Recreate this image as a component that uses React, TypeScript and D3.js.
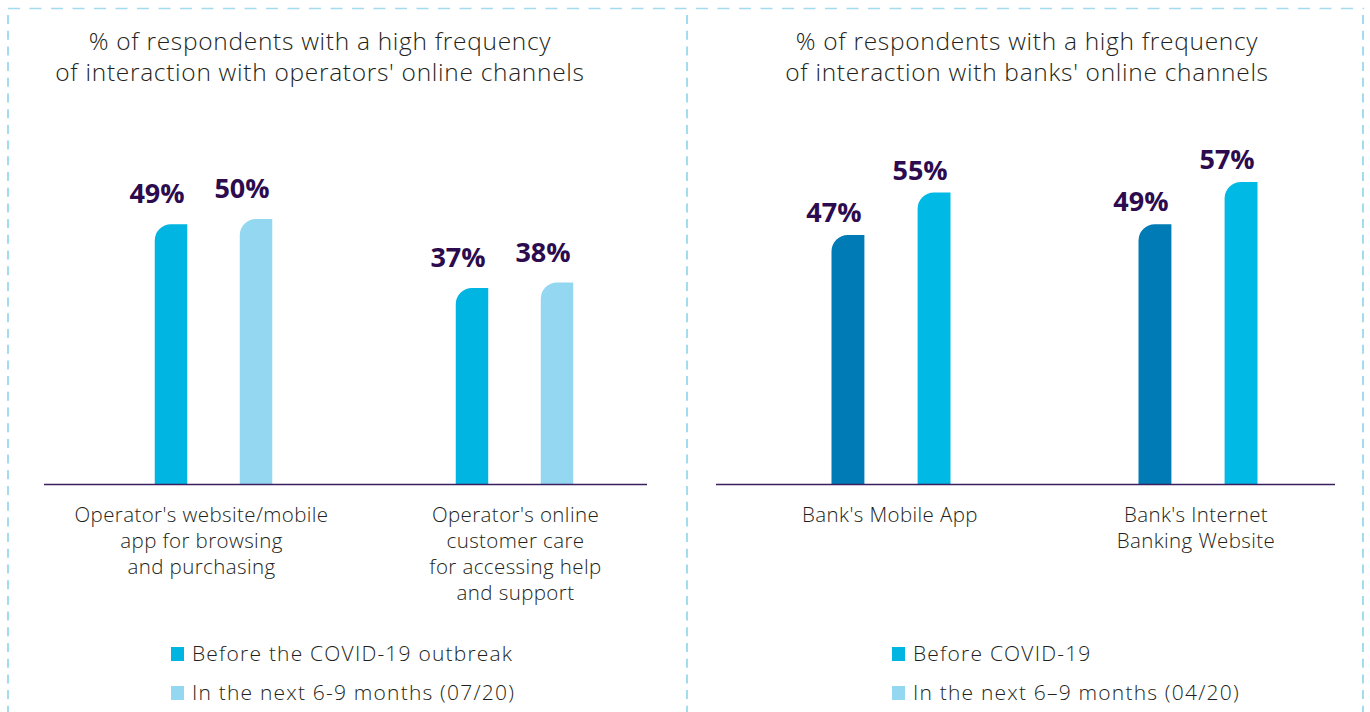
import React from "react";
import * as d3 from "d3";

// ---------- data ----------
const leftTitle = ["% of respondents with a high frequency", "of interaction with operators' online channels"];
const leftCategories = ["website", "care"];
const leftCategoryLabels = [
  ["Operator's website/mobile", "app for browsing", "and purchasing"],
  ["Operator's online", "customer care", "for accessing help", "and support"],
];
const leftBefore = [49, 37];
const leftNext = [50, 38];
const leftLegend = ["Before the COVID-19 outbreak", "In the next 6-9 months (07/20)"];

const rightTitle = ["% of respondents with a high frequency", "of interaction with banks' online channels"];
const rightCategories = ["mobile", "internet"];
const rightCategoryLabels = [["Bank's Mobile App"], ["Bank's Internet", "Banking Website"]];
const rightBefore = [47, 49];
const rightNext = [55, 57];
const rightLegend = ["Before COVID-19", "In the next 6\u20139 months (04/20)"];

const seriesKeys = ["before", "next"];

// ---------- styles ----------
const FONT = "'Open Sans', 'Noto Sans', sans-serif";
const TEXT = "#231f20";
const LABEL = "#2c0b4e";
const BORDER = "#a3dcef";

const W = 1370;
const H = 712;
const baseY = 484;

const y = d3.scaleLinear().domain([0, 60]).range([baseY, baseY - 318]);

function barPath(x: number, top: number, w: number, bottom: number) {
  const r = Math.min(17, w / 2, bottom - top);
  return `M${x},${bottom}V${top + r}A${r},${r} 0 0 1 ${x + r},${top}H${x + w}V${bottom}Z`;
}

type PanelProps = {
  title: string[];
  titleX: number;
  categories: string[];
  catLabels: string[][];
  catShift: number[];
  before: number[];
  next: number[];
  colors: string[];
  legend: string[];
  legendColors: string[];
  legendX: number;
  axis: [number, number];
  groupRange: [number, number];
  inner: [number, number];
  labelGap: number;
};

function Panel(p: PanelProps) {
  const xg = d3.scalePoint<string>().domain(p.categories).range(p.groupRange);
  const xi = d3.scaleBand<string>().domain(seriesKeys).range(p.inner).paddingInner(0.618).paddingOuter(0);
  const bw = xi.bandwidth();
  const vals = [p.before, p.next];
  return (
    <g>
      {p.title.map((t, i) => (
        <text key={i} x={p.titleX} y={50 + i * 31} textAnchor="middle" fontFamily={FONT} fontSize={24.5} letterSpacing={0.7} fill={TEXT} fontWeight={300}>
          {t}
        </text>
      ))}
      {p.categories.map((c, ci) =>
        seriesKeys.map((s, si) => {
          const v = vals[si][ci];
          const x0 = (xg(c) as number) + (xi(s) as number);
          const top = y(v);
          return (
            <g key={c + s}>
              <path d={barPath(x0, top, bw, baseY)} fill={p.colors[si]} />
              <text
                x={x0 + bw / 2 - 14}
                y={top - p.labelGap}
                textAnchor="middle"
                fontFamily={FONT}
                fontWeight={700}
                fontSize={27}
                fill={LABEL}
              >
                {v}%
              </text>
            </g>
          );
        })
      )}
      <line x1={p.axis[0]} x2={p.axis[1]} y1={baseY + 0.5} y2={baseY + 0.5} stroke="#3b1f5e" strokeWidth={1.5} />
      {p.categories.map((c, ci) => (
        <text key={c} textAnchor="middle" fontFamily={FONT} fontSize={20.5} letterSpacing={0.4} fill={TEXT} fontWeight={300}>
          {p.catLabels[ci].map((l, li) => (
            <tspan key={li} x={(xg(c) as number) + p.catShift[ci]} y={522 + li * 26}>
              {l}
            </tspan>
          ))}
        </text>
      ))}
      {p.legend.map((l, i) => (
        <g key={l} transform={`translate(${p.legendX},${647 + i * 39})`}>
          <rect x={0} y={0} width={13} height={14} fill={p.legendColors[i]} />
          <text x={21} y={14} fontFamily={FONT} fontSize={21} letterSpacing={1.2} fill={TEXT} fontWeight={300}>
            {l}
          </text>
        </g>
      ))}
    </g>
  );
}

export default function App() {
  return (
    <svg width={W} height={H} style={{ position: "absolute", left: 0, top: 0, display: "block", background: "#fff" }}>
      {/* dashed frame */}
      <line x1={8} x2={1364} y1={8.5} y2={8.5} stroke={BORDER} strokeWidth={1.5} strokeDasharray="12 9.5" />
      {[8, 687, 1363].map((x) => (
        <line key={x} x1={x} x2={x} y1={15} y2={H} stroke={BORDER} strokeWidth={2} strokeDasharray="9 6.7" />
      ))}
      <Panel
        title={leftTitle}
        titleX={320}
        categories={leftCategories}
        catLabels={leftCategoryLabels}
        catShift={[-12, 1]}
        before={leftBefore}
        next={leftNext}
        colors={["#00b5e2", "#93d8f0"]}
        legend={leftLegend}
        legendColors={["#00b5e2", "#93d8f0"]}
        legendX={171}
        axis={[44, 647]}
        groupRange={[213.5, 514.5]}
        inner={[-58.75, 58.75]}
        labelGap={21}
      />
      <Panel
        title={rightTitle}
        titleX={1027}
        categories={rightCategories}
        catLabels={rightCategoryLabels}
        catShift={[-1, -2]}
        before={rightBefore}
        next={rightNext}
        colors={["#007bb5", "#00b9e4"]}
        legend={rightLegend}
        legendColors={["#00b5e2", "#93d8f0"]}
        legendX={892}
        axis={[716, 1335]}
        groupRange={[891, 1198]}
        inner={[-59.5, 59.5]}
        labelGap={13}
      />
    </svg>
  );
}
